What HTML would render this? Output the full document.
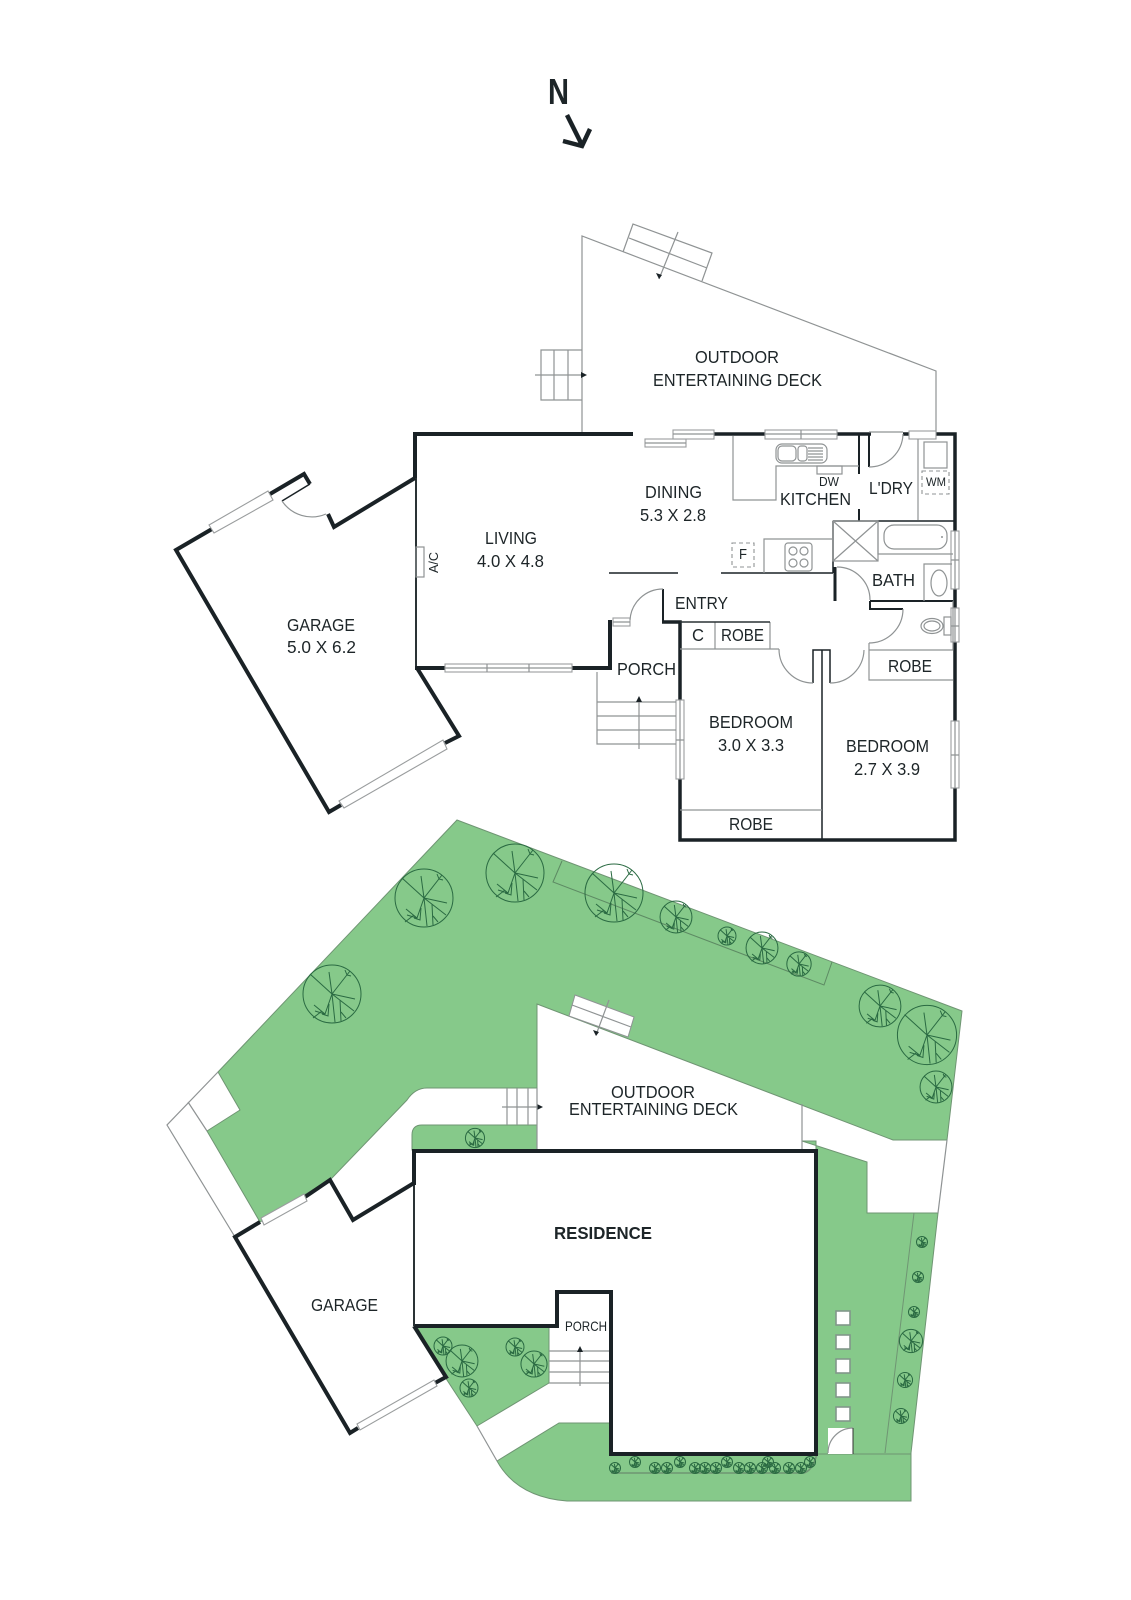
<!DOCTYPE html>
<html><head><meta charset="utf-8"><style>
html,body{margin:0;padding:0;background:#fff}
svg{display:block}
text{font-family:"Liberation Sans",sans-serif;font-size:17.5px;fill:#1d2528;stroke:none}
.g{fill:none;stroke:#8f9394;stroke-width:1.2}
.d{fill:none;stroke:#1a2226;stroke-width:1.5}
.w{fill:none;stroke:#1a2226;stroke-width:4;stroke-linejoin:miter;stroke-linecap:butt}
.win{fill:#fff;stroke:#9a9d9e;stroke-width:1.1}
.gr{fill:#86c98a;stroke:#6f9573;stroke-width:1}
.t{fill:none;stroke:#2a6a42;stroke-width:1;vector-effect:non-scaling-stroke}
</style></head><body>
<svg xmlns="http://www.w3.org/2000/svg" width="1131" height="1600" viewBox="0 0 1131 1600">
<defs>
<g id="t"><circle r="29" class="t"/><path class="t" d="M0 0L-22-20M0 0L-3-22M0 0L18-23M15-19L13-24M15-19L19-18M0 0L23 5M0 0L22 17M0 0L3 28M8 6L9 27M14 24L9 18M0 0L-7 20L-18 11M-7 20L-17 17M-10 17L-19 24M-3 10L-4 22L-10 20"/></g>
</defs>
<rect width="1131" height="1600" fill="#fff"/>

<!-- North -->
<text x="548" y="104" font-weight="bold" style="font-size:36px" textLength="21" lengthAdjust="spacingAndGlyphs">N</text>
<path d="M567 115L582 145M563 141L582 146L590 129" fill="none" stroke="#1a2226" stroke-width="4.5"/>

<!-- Upper plan: deck -->
<path class="g" d="M582 433V236L936 371V433"/>
<path class="g" d="M623 252L633 224L712 253L702 281M629 238L707 268M678 232L659 279"/>
<path d="M659 279l-3-6 6 2z" fill="#1a2226"/>
<path class="g" d="M582 350H541V400H582M554 350V400M568 350V400M535 375H585"/>
<path d="M587 375l-6-3v6z" fill="#1a2226"/>

<!-- Upper plan walls -->
<path class="w" d="M633 434H415V478"/>
<path d="M416 478V667" stroke="#2a3235" stroke-width="2" fill="none"/>
<path class="w" d="M415 668H445M572 668H610V620"/>
<path class="w" d="M714 434H765M837 434H871M903 434H909M936 434H955V840H680V622H662" style="stroke-width:3.5"/>
<path class="d" style="stroke-width:2" d="M869 434V467M663 622V589M859 434V474M859 509V521"/>
<path class="d" d="M833 521H955M833 521V573M721 573H833M609 573H678" />
<path class="d" d="M822 650V840M813 683V650H830V683" />
<path class="w" d="M835 567V601" style="stroke-width:3"/>
<path class="w" d="M870 601H953M869 609H903M870 601V609" style="stroke-width:2"/>

<!-- Windows upper -->
<rect class="win" x="445" y="664" width="127" height="8"/><path class="g" d="M445 668H572M487 664V672M529 664V672"/>
<rect class="win" x="613" y="618" width="17" height="8"/><path class="g" d="M613 622H630"/>
<rect class="win" x="645" y="439" width="41" height="8"/><path class="g" d="M645 443H686"/>
<rect class="win" x="673" y="430" width="41" height="9"/><path class="g" d="M673 434H714"/>
<rect class="win" x="765" y="430" width="72" height="9"/><path class="g" d="M765 434H837M801 430V439"/>
<rect class="win" x="909" y="431" width="27" height="8"/>
<rect class="win" x="676" y="700" width="8" height="79"/><path class="g" d="M680 700V779M676 740H684"/>
<rect class="win" x="951" y="531" width="8" height="58"/><path class="g" d="M955 531V589M951 560H959"/>
<rect class="win" x="951" y="608" width="8" height="34"/><path class="g" d="M955 608V642M951 626H959"/>
<rect class="win" x="951" y="721" width="8" height="67"/><path class="g" d="M955 721V788M951 755H959"/>

<!-- Interior greys -->
<path class="g" d="M680 649H779M715 622V649M770 622V649"/>
<path d="M680 622H770" stroke="#2a3235" stroke-width="1.5" fill="none"/>
<path class="g" d="M680 810H822M869 643V680H953M869 650H953M953 650V601"/>
<path class="g" d="M779 649A34 34 0 0 0 813 683M830 683A34 34 0 0 0 864 650M837 567A33 33 0 0 1 870 600M903 609A34 34 0 0 1 869 643M630 620A33 33 0 0 1 663 589M869 467A34 34 0 0 0 903 434M869 432H903"/>
<path class="g" d="M733 436V500H776V466H859"/>
<rect class="g" x="776" y="444" width="51" height="19" rx="6"/>
<rect class="g" x="778" y="446" width="18" height="15" rx="4"/>
<rect class="g" x="798" y="446" width="9" height="15" rx="3"/>
<path class="g" d="M808 448H823M808 451H823M808 454H823M808 457H823M808 460H823"/>
<rect class="g" x="817" y="466" width="25" height="8"/>
<path class="g" d="M918 439V520"/>
<rect class="g" x="924" y="442" width="23" height="26"/>
<rect x="922" y="471" width="27" height="23" fill="none" stroke="#8f9394" stroke-width="1.1" stroke-dasharray="4 3"/>
<rect class="g" x="833" y="521" width="45" height="40"/><path class="g" d="M833 521L878 561M878 521L833 561"/>
<path class="g" d="M878 521V554H953"/>
<rect class="g" x="884" y="525" width="63" height="24" rx="10"/>
<circle cx="942" cy="537" r="1" fill="#8f9394"/>
<path class="g" d="M952 564H924V601"/>
<ellipse class="g" cx="939" cy="583" rx="8" ry="13"/>
<ellipse class="g" cx="932" cy="626" rx="11" ry="7.5"/><ellipse class="g" cx="932" cy="626" rx="8" ry="5"/>
<rect class="g" x="944" y="617" width="7" height="18"/>
<path class="g" d="M764 573V539H833"/>
<rect class="g" x="785" y="543" width="27" height="28" rx="3"/>
<circle class="g" cx="793" cy="551" r="4"/><circle class="g" cx="804" cy="551" r="4"/><circle class="g" cx="793" cy="563" r="4"/><circle class="g" cx="804" cy="563" r="4"/>
<rect x="732" y="543" width="22" height="24" fill="none" stroke="#8f9394" stroke-width="1.1" stroke-dasharray="4 3"/>
<rect class="g" x="416" y="547" width="8" height="30"/>

<!-- Upper porch stairs -->
<path class="g" d="M597 672V744H676M597 702H676M597 716H676M597 730H676M639 700V749"/>
<path d="M639 696l-3 6h6z" fill="#1a2226"/>

<!-- Upper garage -->
<path class="w" d="M270 494L304 474L310 484M328 514L334 527L415 478M445 743L459 736L417 668M341 805L329 812L176 550L212 529"/>
<path class="d" d="M310 484L282 501"/>
<path class="g" d="M282 501A36 36 0 0 0 326 514"/>
<path class="win" d="M209 525L268 491L273 500L214 533Z"/>
<path class="win" d="M339 801L443 740L447 749L344 808Z"/>

<!-- Site greens -->
<path class="gr" d="M457 820L962 1011L947 1140H893L537 1004V1088H427Q415 1088 407 1100L332 1178L260 1222L207 1131L240 1110L218 1072Z"/>
<path class="gr" d="M412 1150V1135Q412 1125 422 1125H537V1150Z"/>
<path class="gr" d="M802 1141L867 1162V1213H938L911 1453V1501H567Q517 1497 497 1461L559 1423H611V1454H816V1141Z"/>
<path class="gr" d="M417 1327H549V1383L477 1426L445 1377Z"/>
<!-- site whites and lines -->
<path d="M575 995L634 1017L628 1037L569 1016Z" fill="#fff" stroke="#8f9394" stroke-width="1"/>
<path class="g" d="M572 1005L631 1027M609 1000L596 1035"/><path d="M596 1036l-3-6 6 2z" fill="#1a2226"/>
<path class="g" d="M507 1088V1125M517 1088V1125M528 1088V1125M502 1107H540"/><path d="M543 1107l-6-3v6z" fill="#1a2226"/>
<path class="g" d="M218 1072L167 1125L235 1237M188 1102L207 1131"/>
<path class="g" d="M947 1140L938 1213M477 1426L497 1461"/>
<path d="M562 861L553 882L824 985L832 962" fill="none" stroke="#5d8a63" stroke-width="1"/>
<path d="M914 1213L885 1453M611 1454H911" fill="none" stroke="#6f9573" stroke-width="1"/>
<path d="M611 1473H803Q812 1472 817 1454" fill="none" stroke="#6f9573" stroke-width="1.5"/>
<rect x="828" y="1428" width="25" height="26" fill="#fff"/>
<path class="g" d="M828 1453A25 25 0 0 1 853 1428"/><path d="M853 1428V1454" stroke="#333" stroke-width="1"/>
<g fill="#fff" stroke="#82978a" stroke-width="1.6">
<rect x="836" y="1311" width="14" height="14"/><rect x="836" y="1335" width="14" height="14"/><rect x="836" y="1359" width="14" height="14"/><rect x="836" y="1383" width="14" height="14"/><rect x="836" y="1407" width="14" height="14"/>
</g>

<!-- Trees -->
<use href="#t" transform="translate(424 898)"/>
<use href="#t" transform="translate(515 873)"/>
<use href="#t" transform="translate(332 994)"/>
<use href="#t" transform="translate(475 1138) scale(.33)"/>
<use href="#t" transform="translate(614 893)"/>
<use href="#t" transform="translate(676 917) scale(.55)"/>
<use href="#t" transform="translate(727 936) scale(.31)"/>
<use href="#t" transform="translate(762 948) scale(.55)"/>
<use href="#t" transform="translate(799 964) scale(.42)"/>
<use href="#t" transform="translate(880 1006) scale(.72)"/>
<use href="#t" transform="translate(927 1035) scale(1.02)"/>
<use href="#t" transform="translate(936 1087) scale(.55)"/>
<use href="#t" transform="translate(443 1346) scale(.31)"/>
<use href="#t" transform="translate(462 1361) scale(.55)"/>
<use href="#t" transform="translate(469 1388) scale(.31)"/>
<use href="#t" transform="translate(515 1347) scale(.31)"/>
<use href="#t" transform="translate(534 1364) scale(.45)"/>
<use href="#t" transform="translate(922 1242) scale(.19)"/>
<use href="#t" transform="translate(918 1277) scale(.19)"/>
<use href="#t" transform="translate(914 1312) scale(.19)"/>
<use href="#t" transform="translate(911 1341) scale(.4)"/>
<use href="#t" transform="translate(905 1380) scale(.26)"/>
<use href="#t" transform="translate(901 1416) scale(.26)"/>
<use href="#t" transform="translate(615 1468) scale(.19)"/>
<use href="#t" transform="translate(635 1462) scale(.19)"/>
<use href="#t" transform="translate(655 1468) scale(.19)"/>
<use href="#t" transform="translate(667 1468) scale(.19)"/>
<use href="#t" transform="translate(680 1462) scale(.19)"/>
<use href="#t" transform="translate(695 1468) scale(.19)"/>
<use href="#t" transform="translate(705 1468) scale(.19)"/>
<use href="#t" transform="translate(716 1468) scale(.19)"/>
<use href="#t" transform="translate(727 1462) scale(.19)"/>
<use href="#t" transform="translate(739 1468) scale(.19)"/>
<use href="#t" transform="translate(750 1468) scale(.19)"/>
<use href="#t" transform="translate(762 1468) scale(.19)"/>
<use href="#t" transform="translate(768 1462) scale(.19)"/>
<use href="#t" transform="translate(775 1468) scale(.19)"/>
<use href="#t" transform="translate(789 1468) scale(.19)"/>
<use href="#t" transform="translate(801 1468) scale(.19)"/>
<use href="#t" transform="translate(810 1462) scale(.19)"/>

<!-- Site walls -->
<path class="g" d="M537 1088V1151M802 1104V1151"/>
<path class="w" d="M414 1185V1151H816V1454H611V1292H557V1326H414" style="stroke-width:4"/>
<path d="M414 1185V1326" stroke="#2a3235" stroke-width="2" fill="none"/>
<path class="w" d="M260 1222L235 1237L350 1433L358 1428M305 1197L330 1180L353 1220L414 1183M414 1326L446 1377L435 1383"/>
<path class="win" d="M261 1218L304 1194L307 1201L264 1225Z"/>
<path class="win" d="M357 1424L434 1380L437 1386L360 1430Z"/>
<path class="g" d="M549 1351H609M549 1361H609M549 1372H609M549 1383H609M580 1386V1350"/>
<path d="M580 1346l-3 6h6z" fill="#1a2226"/>

<!-- Labels -->
<text x="695" y="363" textLength="84" lengthAdjust="spacingAndGlyphs">OUTDOOR</text>
<text x="653" y="386" textLength="169" lengthAdjust="spacingAndGlyphs">ENTERTAINING DECK</text>
<text x="645" y="498" textLength="57" lengthAdjust="spacingAndGlyphs">DINING</text>
<text x="640" y="521" textLength="66" lengthAdjust="spacingAndGlyphs">5.3 X 2.8</text>
<text x="780" y="505" textLength="71" lengthAdjust="spacingAndGlyphs">KITCHEN</text>
<text x="819" y="486" style="font-size:13px" textLength="20" lengthAdjust="spacingAndGlyphs">DW</text>
<text x="869" y="494" textLength="44" lengthAdjust="spacingAndGlyphs">L'DRY</text>
<text x="926" y="486" style="font-size:12px" textLength="20" lengthAdjust="spacingAndGlyphs">WM</text>
<text x="485" y="544" textLength="52" lengthAdjust="spacingAndGlyphs">LIVING</text>
<text x="477" y="567" textLength="67" lengthAdjust="spacingAndGlyphs">4.0 X 4.8</text>
<text transform="translate(438 573) rotate(-90)" style="font-size:13px" textLength="21" lengthAdjust="spacingAndGlyphs">A/C</text>
<text x="287" y="631" textLength="68" lengthAdjust="spacingAndGlyphs">GARAGE</text>
<text x="287" y="653" textLength="69" lengthAdjust="spacingAndGlyphs">5.0 X 6.2</text>
<text x="617" y="675" textLength="59" lengthAdjust="spacingAndGlyphs">PORCH</text>
<text x="675" y="609" textLength="53" lengthAdjust="spacingAndGlyphs">ENTRY</text>
<text x="692" y="641" textLength="12" lengthAdjust="spacingAndGlyphs">C</text>
<text x="721" y="641" textLength="43" lengthAdjust="spacingAndGlyphs">ROBE</text>
<text x="888" y="672" textLength="44" lengthAdjust="spacingAndGlyphs">ROBE</text>
<text x="872" y="586" textLength="43" lengthAdjust="spacingAndGlyphs">BATH</text>
<text x="739" y="559" style="font-size:15px" textLength="8" lengthAdjust="spacingAndGlyphs">F</text>
<text x="709" y="728" textLength="84" lengthAdjust="spacingAndGlyphs">BEDROOM</text>
<text x="718" y="751" textLength="66" lengthAdjust="spacingAndGlyphs">3.0 X 3.3</text>
<text x="846" y="752" textLength="83" lengthAdjust="spacingAndGlyphs">BEDROOM</text>
<text x="854" y="775" textLength="66" lengthAdjust="spacingAndGlyphs">2.7 X 3.9</text>
<text x="729" y="830" textLength="44" lengthAdjust="spacingAndGlyphs">ROBE</text>
<text x="611" y="1098" textLength="84" lengthAdjust="spacingAndGlyphs">OUTDOOR</text>
<text x="569" y="1115" textLength="169" lengthAdjust="spacingAndGlyphs">ENTERTAINING DECK</text>
<text x="554" y="1239" font-weight="bold" textLength="98" lengthAdjust="spacingAndGlyphs">RESIDENCE</text>
<text x="311" y="1311" textLength="67" lengthAdjust="spacingAndGlyphs">GARAGE</text>
<text x="565" y="1331" style="font-size:14px" textLength="42" lengthAdjust="spacingAndGlyphs">PORCH</text>
</svg>
</body></html>
